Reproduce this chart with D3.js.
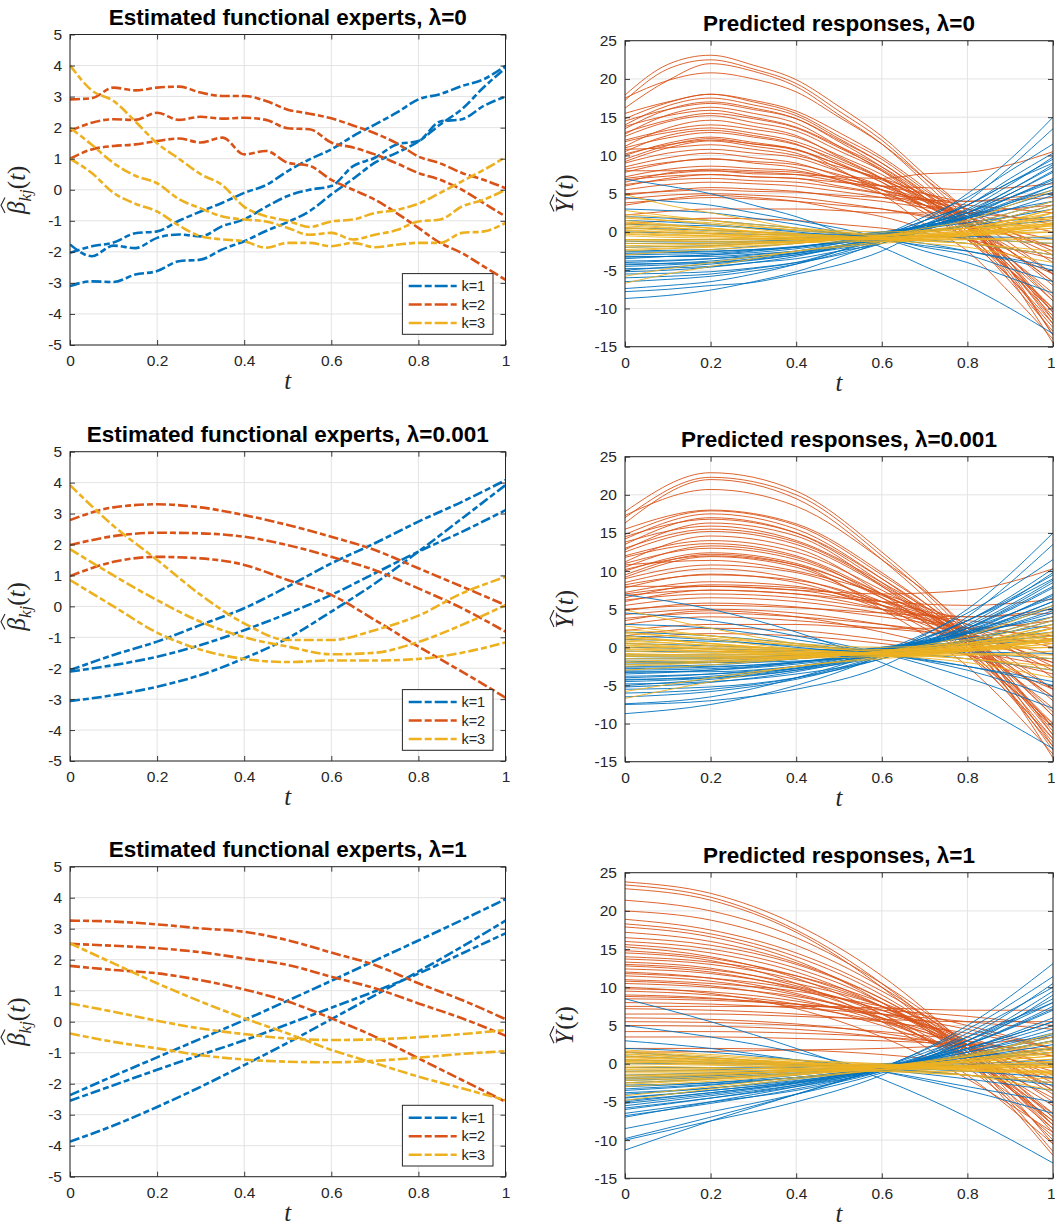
<!DOCTYPE html>
<html>
<head>
<meta charset="utf-8">
<script src="https://cdn.jsdelivr.net/npm/d3@7"></script>
<style>
body { margin: 0; background: #fff; }
svg { display: block; font-family: "Liberation Sans", Arial, Helvetica, sans-serif; }
</style>
</head>
<body>
<svg id="fig" width="1055" height="1228"></svg>
<script>
// ---------------- sample grids ----------------
const tFine  = [0,0.05,0.1,0.15,0.2,0.25,0.3,0.35,0.4,0.45,0.5,0.55,0.6,0.65,0.7,0.75,0.8,0.85,0.9,0.95,1];
const tTenth = [0,0.1,0.2,0.3,0.4,0.5,0.6,0.7,0.8,0.9,1];
const tFifth = [0,0.2,0.4,0.6,0.8,1];
const xTicks = [0,0.2,0.4,0.6,0.8,1];
const betaTicks = [-5,-4,-3,-2,-1,0,1,2,3,4,5];
const respTicks = [-15,-10,-5,0,5,10,15,20,25];
const lambdas = ["0", "0.001", "1"];
const legendLabels = ["k=1", "k=2", "k=3"];

// ---------------- estimated functional experts, lambda = 0 ----------------
const beta0_k1 = [
  [-2.03,-1.82,-1.7,-1.4,-1.34,-1.0,-0.7,-0.42,-0.1,0.15,0.6,0.98,1.3,1.73,2.1,2.48,2.91,3.08,3.34,3.56,3.99],
  [-1.76,-2.14,-1.8,-1.88,-1.55,-1.44,-1.5,-1.17,-0.95,-0.55,-0.2,0.0,0.12,0.76,1.03,1.46,1.57,2.2,2.27,2.7,3.0],
  [-3.1,-2.95,-2.97,-2.73,-2.62,-2.3,-2.25,-1.92,-1.66,-1.33,-1.04,-0.69,-0.15,0.35,0.87,1.19,1.55,2.1,2.6,3.3,3.92]
];
const beta0_k2 = [
  [2.91,2.95,3.29,3.2,3.29,3.32,3.13,3.02,3.02,2.86,2.58,2.45,2.3,2.07,1.82,1.5,1.07,0.85,0.54,0.32,0.05],
  [1.89,2.16,2.27,2.25,2.48,2.25,2.35,2.29,2.32,2.25,1.98,1.95,1.52,1.36,1.14,0.85,0.54,0.32,0.0,-0.43,-0.86],
  [1.0,1.3,1.41,1.46,1.57,1.65,1.52,1.68,1.14,1.25,0.87,0.77,0.32,0.0,-0.32,-0.75,-1.23,-1.71,-2.04,-2.47,-2.9]
];
const beta0_k3 = [
  [4.01,3.2,2.86,2.2,1.5,1.0,0.5,0.15,-0.55,-0.85,-1.0,-1.2,-1.02,-0.96,-0.75,-0.65,-0.45,-0.1,0.27,0.64,1.05],
  [2.0,1.45,0.86,0.45,0.21,-0.3,-0.6,-0.86,-0.96,-1.02,-1.23,-1.45,-1.39,-1.6,-1.45,-1.3,-1.02,-0.96,-0.54,-0.32,0.0],
  [1.0,0.54,-0.1,-0.45,-0.7,-1.15,-1.5,-1.6,-1.66,-1.87,-1.71,-1.71,-1.82,-1.71,-1.85,-1.77,-1.71,-1.71,-1.39,-1.34,-1.07]
];

// ---------------- lambda = 0.001 ----------------
const beta001_k1 = [
  [-2.06,-1.57,-1.14,-0.6,-0.06,0.64,1.39,2.04,2.74,3.38,4.08],
  [-2.11,-1.9,-1.63,-1.25,-0.77,-0.23,0.37,1.07,1.77,2.41,3.11],
  [-3.06,-2.87,-2.6,-2.22,-1.68,-1.03,-0.17,0.74,1.77,2.84,3.92]
];
const beta001_k2 = [
  [2.79,3.2,3.3,3.2,2.95,2.63,2.25,1.82,1.23,0.64,0.04],
  [1.98,2.27,2.38,2.36,2.25,1.98,1.6,1.17,0.58,-0.06,-0.82],
  [0.98,1.44,1.6,1.55,1.34,0.85,0.37,-0.44,-1.3,-2.11,-2.95]
];
const beta001_k3 = [
  [3.92,2.6,1.5,0.37,-0.55,-1.09,-1.09,-0.77,-0.3,0.42,0.95],
  [1.85,1.0,0.2,-0.5,-1.0,-1.3,-1.55,-1.5,-1.15,-0.6,0.04],
  [0.85,0.0,-0.85,-1.4,-1.7,-1.8,-1.75,-1.75,-1.7,-1.5,-1.17]
];

// ---------------- lambda = 1 ----------------
const beta1_k1 = [
  [-2.37,-1.75,-1.15,-0.55,0.05,0.68,1.32,1.97,2.62,3.28,3.95],
  [-2.55,-2.05,-1.55,-1.07,-0.6,-0.08,0.45,0.98,1.55,2.2,2.85],
  [-3.87,-3.35,-2.75,-2.1,-1.4,-0.68,0.08,0.85,1.62,2.42,3.26]
];
const beta1_k2 = [
  [3.26,3.23,3.14,3.01,2.9,2.63,2.23,1.83,1.24,0.7,0.08],
  [2.51,2.45,2.37,2.24,2.04,1.83,1.45,1.08,0.59,0.11,-0.45],
  [1.8,1.67,1.56,1.34,1.04,0.65,0.11,-0.48,-1.18,-1.88,-2.58]
];
const beta1_k3 = [
  [2.53,1.88,1.24,0.65,0.11,-0.38,-0.91,-1.34,-1.77,-2.15,-2.53],
  [0.59,0.32,0.03,-0.22,-0.4,-0.54,-0.59,-0.57,-0.5,-0.4,-0.27],
  [-0.38,-0.65,-0.86,-1.08,-1.22,-1.29,-1.31,-1.26,-1.16,-1.04,-0.95]
];

// ---------------- predicted responses, lambda = 0 (t step 0.1) ----------------
const resp0_k2 = [
  [17.9,21.9,23.1,21.8,19.9,16.4,12.5,7.5,2.5,-5,-13.5],
  [17.2,21.3,22.5,21.3,19.4,15.8,12.0,7.0,1.5,-6,-14.5],
  [16.2,19.8,22.0,21.0,19.0,15.3,11.5,6.5,1.0,-5.5,-13.5],
  [17.5,19.8,20.8,20.0,18.3,15.0,11.5,7.0,2.5,-4,-11.5],
  [14.8,16.9,18.0,17.0,15.5,12.5,9.5,5.5,1.5,-4,-10.5],
  [14.0,16.5,17.5,16.6,15.2,12.2,9.0,5.0,0.5,-5,-12.0],
  [13.5,16.0,17.0,16.2,14.8,11.8,8.5,4.5,0.0,-6,-12.5],
  [12.8,15.3,16.3,15.5,14.2,11.2,8.0,4.0,-0.5,-6.5,-13.0],
  [13.8,15.2,15.9,15.0,13.7,11.2,8.5,5.0,1.5,-3.5,-9.0],
  [12.5,14.4,15.2,14.3,13.2,10.6,8.0,4.5,0.5,-4.5,-10.0],
  [11.2,13.6,14.6,13.8,12.6,9.8,7.0,3.0,-1.0,-6,-12.0],
  [11.8,13.0,13.6,12.9,11.8,9.6,7.0,4.0,1.0,-3.5,-8.5],
  [10.5,12.6,13.3,12.6,11.5,9.0,6.5,3.0,-0.5,-5,-10.5],
  [10.0,11.6,12.4,11.7,10.8,8.8,6.5,3.5,0.5,-3.5,-8.0],
  [9.2,11.0,11.9,11.2,10.3,8.0,5.5,2.5,-1.0,-5,-10.0],
  [10.8,11.0,11.4,10.8,10.0,8.5,7.0,5.0,3.0,-0.5,-4.0],
  [8.5,9.7,10.3,9.7,9.0,7.3,5.5,3.5,1.0,-2,-5.5],
  [7.8,9.0,9.6,9.0,8.4,6.8,5.0,3.0,0.5,-2.5,-6.5],
  [7.2,8.2,8.6,8.3,8.0,6.8,5.5,4.0,2.0,-0.5,-3.0],
  [8.0,8.0,8.0,7.6,7.5,7.2,7.0,7.6,7.8,8.8,10.5],
  [6.8,7.3,7.5,7.2,7.0,6.5,6.0,5.8,5.5,5.8,6.3],
  [6.2,6.8,7.0,6.7,6.5,5.8,5.0,4.3,3.5,3.0,2.5],
  [5.5,6.2,6.5,6.3,6.0,5.3,4.5,3.5,2.5,1.2,0.0],
  [5.0,5.3,5.5,5.3,5.2,4.8,4.5,4.2,4.0,4.5,5.0],
  [4.3,4.8,5.0,4.8,4.5,3.8,3.0,2.0,1.0,-0.5,-2.0],
  [3.5,4.3,4.8,4.5,4.0,3.0,2.0,0.5,-1.0,-3,-5.5],
  [2.2,2.7,3.0,3.0,3.0,2.8,2.5,2.5,2.5,3.0,3.5],
  [1.0,1.5,1.8,1.7,1.5,1.0,0.5,-0.2,-1.0,-2.2,-3.5],
  [9.5,11.3,12.2,11.5,10.8,8.2,5.0,1.0,-2.5,-8,-14.0],
  [6.5,7.7,8.2,8.0,7.8,7.0,6.0,5.0,4.0,4.2,4.5],
  [15.5,17.0,18.0,17.2,15.8,13.0,9.8,5.8,1.2,-5,-11.0],
  [14.5,16.0,16.8,16.0,14.8,12.0,9.0,5.2,1.0,-5,-11.5],
  [13.0,14.6,15.5,14.8,13.6,11.0,8.2,4.5,0.8,-4.5,-10.5],
  [12.0,13.3,14.0,13.4,12.4,10.0,7.5,4.3,1.0,-4,-9.0],
  [11.0,12.3,13.0,12.4,11.4,9.3,7.0,4.2,1.5,-2.5,-7.0],
  [10.2,11.4,12.0,11.5,10.7,8.8,6.8,4.5,2.0,-1.5,-5.5],
  [9.0,10.3,10.8,10.3,9.7,7.9,6.0,3.5,1.0,-2.5,-6.5],
  [8.2,9.1,9.5,9.2,8.8,7.5,6.0,4.2,2.5,0.0,-2.5],
  [7.0,7.6,8.0,7.8,7.5,6.6,5.5,4.2,3.0,2.0,1.0],
  [6.0,7.0,7.5,7.2,7.0,6.0,5.0,3.5,2.0,0.0,-2.0],
  [4.8,5.4,5.8,5.6,5.3,4.6,4.0,3.2,2.5,2.0,1.5],
  [3.8,4.2,4.5,4.3,4.0,3.5,3.0,2.2,1.5,0.2,-1.0]
];
const resp0_k1 = [
  [-8.7,-8.3,-7.6,-6.5,-5.2,-3.3,-1.2,1.5,5.0,9.5,15.0],
  [-7.8,-7.5,-7.0,-6.6,-5.5,-4.3,-2.5,0.5,4.0,8.5,13.5],
  [-7.4,-7.0,-6.5,-5.5,-4.2,-2.5,-0.5,2.0,4.5,8.0,11.5],
  [-5.0,-4.6,-4.2,-3.7,-3.0,-2.0,-0.5,1.5,3.5,7.0,10.3],
  [-4.5,-4.3,-4.0,-3.5,-2.8,-1.8,-0.5,1.5,3.5,6.5,9.0],
  [-4.8,-4.7,-4.5,-4.0,-3.5,-2.5,-1.5,0.5,2.5,5.5,8.5],
  [-4.0,-3.8,-3.5,-3.0,-2.5,-1.5,-0.5,1.0,2.5,5.0,7.8],
  [-3.8,-3.7,-3.5,-3.2,-2.8,-2.0,-1.0,0.5,2.0,4.5,7.0],
  [-3.5,-3.2,-3.0,-2.5,-2.0,-1.2,-0.3,1.0,2.5,4.5,6.5],
  [-3.0,-2.9,-2.8,-2.4,-2.0,-1.3,-0.5,0.8,2.0,4.0,6.0],
  [-2.5,-2.4,-2.3,-1.9,-1.5,-0.9,-0.2,0.8,2.0,3.8,5.5],
  [-2.0,-1.9,-1.8,-1.5,-1.2,-0.6,0.0,0.8,1.8,3.0,4.0],
  [-1.5,-1.5,-1.5,-1.3,-1.0,-0.5,0.0,0.5,1.2,2.0,3.0],
  [-1.0,-1.0,-1.0,-0.9,-0.8,-0.5,-0.2,0.2,0.8,1.5,2.0],
  [0.5,0.4,0.2,0.0,-0.2,-0.3,-0.5,-0.6,-0.8,-1.2,-1.5],
  [1.0,0.9,0.8,0.5,0.2,-0.2,-0.5,-1.0,-1.5,-2.2,-3.0],
  [2.0,1.8,1.5,1.0,0.5,-0.2,-0.8,-1.5,-2.5,-3.7,-5.0],
  [3.0,2.8,2.5,1.8,1.0,0.0,-0.8,-2.0,-3.0,-4.8,-6.5],
  [4.5,4.0,3.5,2.5,1.5,0.5,-0.8,-2.5,-4.0,-6.0,-8.0],
  [6.9,6.0,5.0,3.5,2.0,0.0,-2.0,-4.5,-7.0,-10.0,-13.3],
  [-6.0,-5.8,-5.5,-4.8,-4.0,-2.5,-1.0,1.0,3.5,6.5,9.5],
  [-5.5,-5.4,-5.2,-4.7,-4.0,-3.0,-1.5,0.5,2.5,5.0,8.0],
  [-4.2,-4.1,-4.0,-3.6,-3.0,-2.2,-1.2,0.3,1.8,3.8,6.0],
  [1.5,1.3,1.0,0.5,0.0,-0.5,-1.0,-1.8,-2.5,-3.5,-4.5],
  [-3.2,-3.2,-3.2,-2.9,-2.5,-1.8,-1.0,0.0,1.0,2.5,4.0],
  [-4.3,-4.1,-3.8,-3.3,-2.7,-1.8,-0.8,0.6,2.2,4.5,6.8],
  [-3.3,-3.2,-3.0,-2.7,-2.2,-1.5,-0.7,0.5,1.8,3.5,5.2],
  [-2.8,-2.7,-2.6,-2.3,-1.9,-1.3,-0.6,0.4,1.5,3.0,4.8],
  [-6.5,-6.2,-5.8,-5.1,-4.2,-2.8,-1.2,0.8,3.0,6.2,9.8],
  [-1.2,-1.3,-1.3,-1.2,-1.0,-0.7,-0.4,0.0,0.5,1.0,1.5],
  [-2.6,-2.6,-2.5,-2.3,-2.0,-1.4,-0.8,0.0,0.8,2.0,3.5],
  [0.0,-0.1,-0.2,-0.3,-0.4,-0.4,-0.5,-0.5,-0.6,-0.7,-0.8],
  [-5.2,-5.0,-4.6,-4.0,-3.2,-2.0,-0.8,1.0,2.8,5.5,8.8]
];
const resp0_k3 = [
  [-6.7,-5.5,-4.5,-3.5,-2.5,-2.0,-1.5,-1.0,-0.5,0.0,0.5],
  [-5.8,-4.8,-4.0,-3.2,-2.5,-1.8,-1.3,-0.8,-0.5,-0.3,0.0],
  [4.9,3.5,2.5,1.5,0.5,0.0,-0.5,0.0,0.5,1.5,2.5],
  [2.8,2.1,1.5,0.8,0.2,-0.2,-0.5,-0.2,0.2,1.0,2.0],
  [2.0,1.5,1.0,0.4,-0.2,-0.5,-0.8,-0.5,-0.2,0.6,1.5],
  [1.5,1.0,0.5,0.0,-0.5,-0.8,-1.0,-0.8,-0.5,0.2,1.0],
  [1.0,0.6,0.2,-0.2,-0.5,-0.7,-0.8,-0.5,0.0,1.0,2.5],
  [0.5,0.2,-0.2,-0.5,-0.8,-0.9,-1.0,-0.8,-0.5,0.0,0.5],
  [0.0,-0.3,-0.5,-0.8,-1.0,-1.0,-1.0,-0.7,-0.3,0.3,1.0],
  [-0.5,-0.7,-0.8,-0.9,-1.0,-0.9,-0.8,-0.5,0.0,0.8,1.8],
  [-1.0,-1.1,-1.2,-1.2,-1.2,-1.0,-0.8,-0.3,0.2,1.2,2.5],
  [-1.5,-1.5,-1.5,-1.3,-1.2,-0.9,-0.6,0.0,0.5,1.6,3.0],
  [-2.0,-1.9,-1.8,-1.5,-1.3,-0.9,-0.5,0.2,0.8,2.0,3.5],
  [-2.5,-2.2,-2.0,-1.8,-1.5,-1.0,-0.5,0.2,1.0,2.5,4.0],
  [-3.0,-2.6,-2.3,-2.0,-1.5,-1.0,-0.5,0.5,1.5,3.5,5.5],
  [0.8,0.5,0.3,0.0,-0.3,-0.5,-0.8,-1.2,-1.5,-2.0,-2.5],
  [1.2,0.8,0.5,0.0,-0.3,-0.7,-1.0,-1.5,-2.0,-3.0,-4.0],
  [-0.2,-0.4,-0.5,-0.6,-0.8,-0.9,-1.0,-1.2,-1.5,-2.2,-3.0],
  [0.3,0.0,-0.2,-0.5,-0.7,-1.0,-1.2,-1.1,-1.0,-0.8,-0.5],
  [-1.2,-1.2,-1.3,-1.3,-1.4,-1.3,-1.2,-1.0,-0.8,-1.2,-1.5],
  [1.8,1.5,1.2,0.7,0.3,0.0,-0.3,0.0,0.5,1.5,3.0],
  [2.3,1.9,1.5,1.0,0.5,0.2,0.0,0.2,0.5,0.8,1.0],
  [-1.8,-1.7,-1.6,-1.5,-1.3,-1.0,-0.8,-0.5,-0.2,-0.1,0.0],
  [0.2,-0.1,-0.3,-0.6,-0.8,-0.9,-0.9,-0.6,-0.3,0.2,0.8],
  [-0.3,-0.5,-0.6,-0.8,-0.9,-0.9,-0.8,-0.5,-0.2,0.5,1.2],
  [1.3,0.9,0.5,0.1,-0.3,-0.6,-0.8,-0.6,-0.3,0.4,1.2],
  [-1.0,-1.0,-1.0,-1.0,-1.0,-0.9,-0.7,-0.4,0.0,0.4,0.8],
  [0.6,0.3,0.0,-0.3,-0.6,-0.8,-1.0,-1.0,-1.0,-1.0,-1.0],
  [-2.3,-2.1,-1.9,-1.6,-1.4,-1.0,-0.6,0.0,0.5,1.2,2.0]
];

// ---------------- predicted responses, lambda = 0.001 (t step 0.2) ----------------
const resp001_k2 = [
  [17.8,22.9,20.5,12.5,2.0,-13.0],
  [17.0,22.3,20.0,12.0,1.5,-14.5],
  [16.3,22.0,19.5,11.5,1.0,-13.5],
  [17.3,20.7,18.5,11.5,2.5,-11.5],
  [14.8,17.9,16.0,9.5,1.5,-10.5],
  [14.2,17.5,15.5,9.0,0.5,-12.0],
  [13.5,17.0,15.0,8.5,0.0,-12.5],
  [12.8,16.3,14.6,8.0,-0.5,-13.0],
  [13.8,15.9,14.0,8.5,1.5,-9.0],
  [12.5,15.2,13.5,8.0,0.5,-10.0],
  [11.2,14.6,13.0,7.0,-1.0,-12.0],
  [11.8,13.6,12.0,7.0,1.0,-8.5],
  [10.5,13.3,11.8,6.5,-0.5,-10.5],
  [10.0,12.4,11.0,6.5,0.5,-8.0],
  [9.2,11.9,10.5,5.5,-1.0,-10.0],
  [10.8,11.4,10.0,7.0,3.0,-4.0],
  [8.5,10.3,9.0,5.5,1.0,-5.5],
  [7.8,9.6,8.5,5.0,0.5,-6.5],
  [7.2,8.6,8.0,5.5,2.0,-3.0],
  [8.0,8.0,7.5,7.0,7.5,10.3],
  [6.8,7.5,7.0,6.0,5.5,6.3],
  [6.2,7.0,6.5,5.0,3.5,2.5],
  [5.5,6.5,6.0,4.5,2.5,0.0],
  [5.0,5.5,5.2,4.5,4.0,5.0],
  [4.3,5.0,4.5,3.0,1.0,-2.0],
  [3.5,4.8,4.0,2.0,-1.0,-5.5],
  [3.0,4.0,3.5,2.5,1.5,0.5],
  [2.2,3.0,3.0,2.5,2.5,3.5],
  [1.5,2.5,2.2,1.0,-0.5,-2.5],
  [1.0,1.8,1.5,0.5,-1.0,-3.5],
  [6.5,8.2,7.8,6.0,4.0,4.5],
  [9.5,12.2,10.8,5.0,-2.5,-14.0],
  [15.5,18.0,16.2,9.8,1.2,-11.0],
  [14.5,16.8,15.0,9.0,1.0,-11.5],
  [13.0,15.5,13.8,8.2,0.8,-10.5],
  [12.0,14.0,12.5,7.5,1.0,-9.0],
  [11.0,13.0,11.5,7.0,1.5,-7.0],
  [10.2,12.0,10.8,6.8,2.0,-5.5],
  [9.0,10.8,9.8,6.0,1.0,-6.5],
  [8.2,9.5,8.8,6.0,2.5,-2.5],
  [7.0,8.0,7.5,5.5,3.0,1.0],
  [6.0,7.5,7.0,5.0,2.0,-2.0],
  [4.8,5.8,5.3,4.0,2.5,1.5],
  [3.8,4.5,4.0,3.0,1.5,-1.0]
];
const resp001_k1 = [
  [-8.7,-7.5,-5.0,-1.0,5.0,15.0],
  [-7.5,-7.0,-5.5,-2.5,4.0,13.5],
  [-7.4,-6.5,-4.0,-0.5,4.5,11.5],
  [-5.0,-4.2,-3.0,-0.5,3.5,10.3],
  [-4.5,-4.0,-2.8,-0.5,3.5,9.0],
  [-4.8,-4.5,-3.5,-1.5,2.5,8.5],
  [-4.0,-3.5,-2.5,-0.5,2.5,7.8],
  [-3.8,-3.5,-2.8,-1.0,2.0,7.0],
  [-3.5,-3.0,-2.0,-0.3,2.5,6.5],
  [-3.0,-2.8,-2.0,-0.5,2.0,6.0],
  [-2.5,-2.3,-1.5,-0.2,2.0,5.5],
  [-2.2,-2.0,-1.5,-0.5,1.5,4.5],
  [-2.0,-1.8,-1.2,0.0,1.8,4.0],
  [-1.5,-1.5,-1.0,0.0,1.2,3.0],
  [-1.0,-1.0,-0.8,-0.2,0.8,2.0],
  [-0.5,-0.6,-0.5,-0.2,0.3,1.0],
  [0.5,0.2,-0.2,-0.5,-0.8,-1.5],
  [1.0,0.8,0.2,-0.5,-1.5,-3.0],
  [2.0,1.5,0.5,-0.8,-2.5,-5.0],
  [3.0,2.5,1.0,-0.8,-3.0,-6.5],
  [4.5,3.5,1.5,-0.8,-4.0,-8.0],
  [6.9,5.0,2.0,-2.0,-7.0,-13.3],
  [-6.0,-5.5,-4.0,-1.0,3.5,9.5],
  [-5.5,-5.2,-4.0,-1.5,2.5,8.0],
  [-3.2,-3.2,-2.5,-1.0,1.0,4.0],
  [-1.8,-2.0,-1.8,-1.0,0.5,2.5],
  [1.5,1.0,0.0,-1.0,-2.5,-4.5],
  [-4.2,-4.0,-3.0,-1.2,1.8,6.0],
  [-4.3,-3.8,-2.7,-0.8,2.2,6.8],
  [-3.3,-3.0,-2.2,-0.7,1.8,5.2],
  [-2.8,-2.6,-1.9,-0.6,1.5,4.8],
  [-6.5,-5.8,-4.2,-1.2,3.0,9.8],
  [-1.2,-1.3,-1.0,-0.4,0.5,1.5],
  [-2.6,-2.5,-2.0,-0.8,0.8,3.5],
  [0.0,-0.2,-0.4,-0.5,-0.6,-0.8],
  [-5.2,-4.6,-3.2,-0.8,2.8,8.8]
];
const resp001_k3 = [
  [-6.7,-4.5,-2.5,-1.5,-0.5,0.5],
  [-5.8,-4.0,-2.5,-1.3,-0.5,0.0],
  [4.9,2.5,0.5,-0.5,0.5,2.5],
  [2.8,1.5,0.2,-0.5,0.2,2.0],
  [2.0,1.0,-0.2,-0.8,-0.2,1.5],
  [1.5,0.5,-0.5,-1.0,-0.5,1.0],
  [1.0,0.2,-0.5,-0.8,0.0,2.5],
  [0.5,-0.2,-0.8,-1.0,-0.5,0.5],
  [0.0,-0.5,-1.0,-1.0,-0.3,1.0],
  [-0.5,-0.8,-1.0,-0.8,0.0,1.8],
  [-1.0,-1.2,-1.2,-0.8,0.2,2.5],
  [-1.5,-1.5,-1.2,-0.6,0.5,3.0],
  [-2.0,-1.8,-1.3,-0.5,0.8,3.5],
  [-2.5,-2.0,-1.5,-0.5,1.0,4.0],
  [-3.0,-2.3,-1.5,-0.5,1.5,5.5],
  [0.8,0.3,-0.3,-0.8,-1.5,-2.5],
  [1.2,0.5,-0.3,-1.0,-2.0,-4.0],
  [-0.2,-0.5,-0.8,-1.0,-1.5,-3.0],
  [0.3,-0.2,-0.7,-1.2,-1.0,-0.5],
  [-1.2,-1.3,-1.4,-1.2,-0.8,-1.5],
  [1.8,1.2,0.3,-0.3,0.5,3.0],
  [-0.8,-1.0,-1.0,-0.6,0.3,1.5],
  [2.3,1.5,0.5,0.0,0.5,1.0],
  [-1.8,-1.6,-1.3,-0.8,-0.2,0.0],
  [0.2,-0.3,-0.8,-0.9,-0.3,0.8],
  [-0.3,-0.6,-0.9,-0.8,-0.2,1.2],
  [1.3,0.5,-0.3,-0.8,-0.3,1.2],
  [-1.0,-1.0,-1.0,-0.7,0.0,0.8],
  [0.6,0.0,-0.6,-1.0,-1.0,-1.0],
  [-2.3,-1.9,-1.4,-0.6,0.5,2.0]
];

// ---------------- predicted responses, lambda = 1 (t step 0.2) ----------------
const resp1_k2 = [
  [23.8,22.3,18.2,11.5,2.0,-10.5],
  [23.4,21.8,17.5,10.5,1.0,-11.5],
  [22.9,21.4,17.2,10.0,0.5,-12.0],
  [21.4,20.0,16.5,10.5,2.5,-8.0],
  [18.9,17.5,14.5,9.5,2.5,-7.0],
  [18.3,17.0,14.0,9.0,1.5,-8.5],
  [17.9,16.6,13.5,8.0,0.5,-10.0],
  [16.5,15.5,13.0,8.5,2.0,-6.5],
  [16.0,15.0,12.5,8.0,1.0,-8.0],
  [15.6,14.5,12.0,7.5,1.0,-7.5],
  [15.3,14.0,11.2,6.5,-0.5,-9.5],
  [14.0,13.3,11.5,8.0,3.0,-3.5],
  [13.7,13.0,11.0,7.5,2.0,-5.0],
  [13.3,12.5,10.2,6.5,0.5,-7.5],
  [12.4,11.8,10.0,7.0,2.5,-3.5],
  [12.0,11.2,9.2,5.8,0.5,-6.5],
  [11.5,10.8,9.0,6.0,2.0,-3.0],
  [10.5,10.0,8.8,6.5,3.5,-0.5],
  [9.0,8.6,7.5,5.5,2.5,-1.5],
  [8.5,8.3,7.8,7.0,6.2,5.0],
  [8.0,7.8,7.3,6.5,5.5,4.5],
  [7.5,7.5,7.5,7.3,7.0,7.0],
  [6.0,5.8,5.2,4.0,2.0,-1.0],
  [5.0,4.9,4.5,3.5,2.0,0.0],
  [3.5,3.5,3.3,3.0,2.5,1.8],
  [2.0,2.0,1.8,1.2,0.0,-2.0],
  [10.0,9.2,7.2,3.5,-2.0,-9.0],
  [14.5,13.5,10.5,5.5,-1.5,-10.5],
  [6.5,6.5,6.2,5.8,5.5,5.5],
  [1.5,1.6,1.8,2.0,2.5,3.5],
  [11.0,10.5,9.5,7.5,5.0,2.0],
  [9.5,9.0,7.8,5.0,1.0,-4.5],
  [20.0,18.8,15.5,10.0,2.0,-9.0],
  [17.2,16.0,13.2,8.5,1.5,-8.0],
  [14.8,13.8,11.5,7.5,1.5,-7.0],
  [13.0,12.3,10.5,7.5,2.5,-4.0],
  [11.8,11.2,9.8,7.0,3.0,-2.0],
  [10.8,10.2,8.5,5.5,1.0,-5.5],
  [9.8,9.4,8.2,6.0,2.5,-2.5],
  [8.8,8.5,7.8,6.5,4.5,2.0],
  [7.2,7.0,6.5,5.5,4.0,2.0],
  [5.5,5.4,5.0,4.2,3.0,1.0],
  [4.2,4.2,4.0,3.5,2.5,1.0],
  [12.8,12.0,9.8,6.0,0.0,-8.5]
];
const resp1_k1 = [
  [-11.3,-7.5,-4.0,-0.5,3.5,8.0],
  [-10.0,-7.5,-5.0,-1.5,4.0,10.0],
  [-9.8,-7.0,-4.0,-0.5,4.5,11.4],
  [-7.0,-5.0,-3.0,-0.5,5.0,13.1],
  [-6.5,-5.0,-3.5,-1.0,3.0,9.5],
  [-6.0,-4.5,-2.8,-0.5,3.0,8.0],
  [-5.5,-4.2,-2.8,-0.8,2.5,7.5],
  [-5.0,-3.8,-2.5,-0.5,2.5,7.0],
  [-4.8,-3.8,-2.5,-0.8,2.0,6.0],
  [-4.5,-3.5,-2.3,-0.5,2.0,5.5],
  [-4.0,-3.2,-2.0,-0.5,2.0,5.5],
  [-3.5,-2.8,-1.8,-0.5,1.5,4.5],
  [-3.0,-2.5,-1.5,-0.3,1.5,4.0],
  [-2.5,-2.0,-1.3,-0.3,1.2,3.5],
  [-2.0,-1.6,-1.0,-0.2,1.0,3.0],
  [-1.5,-1.2,-0.8,-0.2,0.8,2.0],
  [-1.0,-0.8,-0.5,0.0,0.5,1.5],
  [-0.5,-0.5,-0.4,-0.2,0.0,0.5],
  [0.5,0.2,-0.2,-0.5,-1.0,-1.8],
  [1.5,0.8,0.0,-0.8,-2.0,-3.5],
  [5.0,3.5,1.5,-1.0,-3.5,-6.5],
  [8.5,5.5,2.0,-2.0,-7.0,-13.0],
  [3.0,2.0,0.5,-1.0,-3.0,-5.0],
  [-5.8,-4.5,-3.0,-1.0,2.5,9.0],
  [-3.8,-3.2,-2.2,-0.8,1.0,3.0],
  [2.0,1.5,0.5,-0.5,-1.5,-2.5],
  [-2.8,-2.5,-1.8,-1.0,0.5,2.0],
  [0.0,0.0,-0.2,-0.3,-0.2,0.0],
  [-5.2,-4.0,-2.6,-0.7,2.5,7.2],
  [-3.3,-2.7,-1.8,-0.5,1.2,3.8],
  [-6.8,-5.2,-3.3,-0.8,3.5,10.5],
  [-2.2,-1.8,-1.2,-0.4,0.8,2.5],
  [-4.4,-3.5,-2.4,-0.6,1.8,5.0],
  [1.0,0.5,-0.2,-0.7,-1.5,-2.8],
  [-1.8,-1.5,-1.0,-0.4,0.5,1.5],
  [-8.5,-6.3,-4.0,-1.2,3.0,8.5]
];
const resp1_k3 = [
  [-4.8,-3.3,-2.0,-0.8,0.5,2.0],
  [-4.2,-3.0,-1.8,-0.8,0.3,1.5],
  [1.5,0.8,0.2,-0.3,-0.8,-1.3],
  [1.2,0.7,0.2,-0.2,-0.3,-0.2],
  [0.8,0.4,0.0,-0.3,-0.3,0.0],
  [0.5,0.2,-0.2,-0.4,-0.5,-0.4],
  [0.0,-0.2,-0.4,-0.5,-0.4,-0.2],
  [-0.5,-0.6,-0.6,-0.5,-0.2,0.3],
  [-1.0,-1.0,-0.8,-0.4,0.2,1.0],
  [-1.5,-1.3,-1.0,-0.4,0.5,1.8],
  [-2.0,-1.7,-1.2,-0.5,0.6,2.2],
  [-2.5,-2.0,-1.3,-0.4,0.9,2.8],
  [-3.0,-2.3,-1.5,-0.4,1.2,3.5],
  [1.0,0.5,-0.2,-0.8,-1.5,-2.5],
  [0.3,-0.1,-0.6,-1.0,-1.5,-2.0],
  [-0.3,-0.5,-0.8,-1.0,-1.0,-1.0],
  [1.8,1.2,0.5,0.0,-0.5,-1.0],
  [-1.2,-1.2,-1.0,-0.7,-0.3,0.2],
  [0.2,0.0,-0.3,-0.5,-0.8,-1.2],
  [-0.8,-0.9,-0.9,-0.8,-0.6,-0.5],
  [1.3,0.7,0.0,-0.5,-1.5,-3.5],
  [-1.8,-1.5,-1.0,-0.3,1.0,4.0],
  [0.6,0.3,0.0,-0.2,0.2,1.0],
  [-2.2,-1.9,-1.4,-0.7,0.3,1.3],
  [0.9,0.5,0.1,-0.2,-0.4,-0.5],
  [-0.7,-0.7,-0.6,-0.4,0.0,0.6],
  [-1.6,-1.4,-1.0,-0.4,0.5,1.5],
  [0.4,0.1,-0.2,-0.5,-0.9,-1.5],
  [-2.7,-2.1,-1.4,-0.5,1.0,3.0],
  [1.6,1.0,0.4,-0.1,-0.6,-1.2]
];

// ---------------- styling ----------------
const colors = ["#0072BD", "#D95319", "#EDB120"];
const axisColor = "#262626";
const gridColor = "#e3e3e3";
const dashStyle = "10,3,6,3";
const mathFont = "'Liberation Serif', 'Times New Roman', serif";

const svg = d3.select("#fig");

// one subplot
function drawPanel(p) {
  let g = svg.append("g");
  let x = d3.scaleLinear().domain([0, 1]).range([p.x0, p.x1]);
  let y = d3.scaleLinear().domain(p.ydom).range([p.y1, p.y0]);
  let clipId = "clip" + p.id;

  g.append("clipPath").attr("id", clipId)
    .append("rect")
    .attr("x", p.x0).attr("y", p.y0)
    .attr("width", p.x1 - p.x0).attr("height", p.y1 - p.y0);

  // grid
  g.append("g").selectAll("line").data(xTicks).enter().append("line")
    .attr("x1", d => x(d)).attr("x2", d => x(d))
    .attr("y1", p.y0).attr("y2", p.y1)
    .attr("stroke", gridColor).attr("stroke-width", 1);
  g.append("g").selectAll("line").data(p.yticks).enter().append("line")
    .attr("x1", p.x0).attr("x2", p.x1)
    .attr("y1", d => y(d)).attr("y2", d => y(d))
    .attr("stroke", gridColor).attr("stroke-width", 1);

  // curves
  let plot = g.append("g").attr("clip-path", "url(#" + clipId + ")");
  p.series.forEach(function (s) {
    let line = d3.line()
      .x((v, i) => x(s.t[i]))
      .y(v => y(v))
      .curve(d3.curveMonotoneX);
    plot.append("g").selectAll("path").data(s.rows).enter().append("path")
      .attr("d", line)
      .attr("fill", "none")
      .attr("stroke", s.color)
      .attr("stroke-width", s.width)
      .attr("stroke-dasharray", s.dash || null)
      .attr("stroke-linejoin", "round");
  });

  // axes, ticks inward on all four sides
  function styleAxis(sel) {
    sel.attr("font-size", null).attr("font-family", null);
    sel.select(".domain").remove();
    sel.selectAll(".tick line").attr("stroke", axisColor).attr("stroke-width", 0.9);
    sel.selectAll(".tick text").attr("fill", axisColor).style("font-size", "15.5px");
  }
  let xa = g.append("g").attr("transform", "translate(0," + p.y1 + ")")
    .call(d3.axisBottom(x).tickValues(xTicks).tickSizeInner(-5).tickSizeOuter(0)
      .tickPadding(10).tickFormat(d => String(d)))
    .call(styleAxis);
  // the last label sits on the page edge for the right column
  if (p.x1 > 1000) {
    xa.selectAll(".tick text").filter(d => d === 1)
      .attr("text-anchor", "end").attr("dx", 2);
  }
  g.append("g").attr("transform", "translate(0," + p.y0 + ")")
    .call(d3.axisTop(x).tickValues(xTicks).tickSizeInner(-5).tickSizeOuter(0).tickFormat(""))
    .call(styleAxis);
  g.append("g").attr("transform", "translate(" + p.x0 + ",0)")
    .call(d3.axisLeft(y).tickValues(p.yticks).tickSizeInner(-5).tickSizeOuter(0)
      .tickPadding(8).tickFormat(d => String(d)))
    .call(styleAxis);
  g.append("g").attr("transform", "translate(" + p.x1 + ",0)")
    .call(d3.axisRight(y).tickValues(p.yticks).tickSizeInner(-5).tickSizeOuter(0).tickFormat(""))
    .call(styleAxis);

  // box
  g.append("rect")
    .attr("x", p.x0).attr("y", p.y0)
    .attr("width", p.x1 - p.x0).attr("height", p.y1 - p.y0)
    .attr("fill", "none").attr("stroke", axisColor).attr("stroke-width", 1);

  // title
  g.append("text")
    .attr("x", (p.x0 + p.x1) / 2).attr("y", p.y0 - 9.5)
    .attr("text-anchor", "middle")
    .style("font-size", "22.5px").style("font-weight", "bold")
    .attr("fill", "#000")
    .text(p.title);

  // x label
  g.append("text")
    .attr("x", (p.x0 + p.x1) / 2).attr("y", p.y1 + 44)
    .attr("text-anchor", "middle")
    .style("font-family", mathFont).style("font-style", "italic")
    .style("font-size", "25px").attr("fill", axisColor)
    .text("t");

  // y label (rotated), with a drawn hat over the symbol
  let lg0 = g.append("g")
    .attr("transform", "translate(" + p.ylabX + "," + (p.y0 + p.y1) / 2 + ") rotate(-90)");
  let yl = lg0.append("text")
    .attr("x", 0).attr("y", 0)
    .attr("text-anchor", "middle")
    .style("font-family", mathFont).style("font-size", "25px")
    .attr("fill", axisColor);
  let sym;
  if (p.ylab === "beta") {
    sym = yl.append("tspan").style("font-style", "italic").text("\u03B2");
    yl.append("tspan").attr("dy", 6).style("font-style", "italic").style("font-size", "17px").text("kj");
    yl.append("tspan").attr("dy", -6).text("(");
  } else {
    sym = yl.append("tspan").style("font-style", "italic").text("Y");
    yl.append("tspan").attr("dx", 1).text("(");
  }
  yl.append("tspan").style("font-style", "italic").text("t");
  yl.append("tspan").text(")");
  let total = yl.node().getComputedTextLength();
  let symW = sym.node().getComputedTextLength();
  let sx = -total / 2;
  let hatTop = p.ylab === "beta" ? -24 : -23;
  lg0.append("path")
    .attr("d", "M" + (sx + 1) + "," + (hatTop + 4) + " L" + (sx + symW / 2 + 2.5) + "," + hatTop +
      " L" + (sx + symW + 4) + "," + (hatTop + 4))
    .attr("fill", "none").attr("stroke", axisColor).attr("stroke-width", 1.1);

  // legend
  if (p.legend) {
    let lx = p.x1 - 12.5 - 90.6, ly = p.y1 - 10.7 - 60.7;
    let lg = g.append("g");
    lg.append("rect")
      .attr("x", lx).attr("y", ly).attr("width", 90.6).attr("height", 60.7)
      .attr("fill", "#fff").attr("stroke", axisColor).attr("stroke-width", 1);
    legendLabels.forEach(function (lab, i) {
      let yy = ly + 12.4 + i * 18.5;
      lg.append("line")
        .attr("x1", lx + 6.3).attr("x2", lx + 54.3)
        .attr("y1", yy).attr("y2", yy)
        .attr("stroke", colors[i]).attr("stroke-width", 2.5)
        .attr("stroke-dasharray", "13,3,7,3");
      lg.append("text")
        .attr("x", lx + 59).attr("y", yy).attr("dy", "0.36em")
        .style("font-size", "14.5px").attr("fill", axisColor)
        .text(lab);
    });
  }
}

// ---------------- layout of the six panels ----------------
const leftBox = [70, 505.5];
const rightBox = [625, 1053];
const leftRows = [[34.5, 345], [451.7, 761], [866.7, 1176.7]];
const rightRows = [[40.7, 346.7], [456.7, 761.7], [872.7, 1178.3]];

const betaSets = [
  [beta0_k1, beta0_k2, beta0_k3, tFine],
  [beta001_k1, beta001_k2, beta001_k3, tTenth],
  [beta1_k1, beta1_k2, beta1_k3, tTenth]
];
const respSets = [
  [resp0_k1, resp0_k2, resp0_k3, tTenth],
  [resp001_k1, resp001_k2, resp001_k3, tFifth],
  [resp1_k1, resp1_k2, resp1_k3, tFifth]
];

for (let r = 0; r < 3; r++) {
  let b = betaSets[r];
  drawPanel({
    id: "L" + r,
    x0: leftBox[0], x1: leftBox[1], y0: leftRows[r][0], y1: leftRows[r][1],
    ydom: [-5, 5], yticks: betaTicks,
    title: "Estimated functional experts, \u03BB=" + lambdas[r],
    ylab: "beta", ylabX: 25, legend: true,
    series: [0, 1, 2].map(k => ({ t: b[3], rows: b[k], color: colors[k], width: 2.6, dash: dashStyle }))
  });
  let s = respSets[r];
  drawPanel({
    id: "R" + r,
    x0: rightBox[0], x1: rightBox[1], y0: rightRows[r][0], y1: rightRows[r][1],
    ydom: [-15, 25], yticks: respTicks,
    title: "Predicted responses, \u03BB=" + lambdas[r],
    ylab: "Y", ylabX: 573, legend: false,
    // red drawn first, then blue, then yellow on top
    series: [1, 0, 2].map(k => ({ t: s[3], rows: s[k], color: colors[k], width: 0.9 }))
  });
}
</script>
</body>
</html>
